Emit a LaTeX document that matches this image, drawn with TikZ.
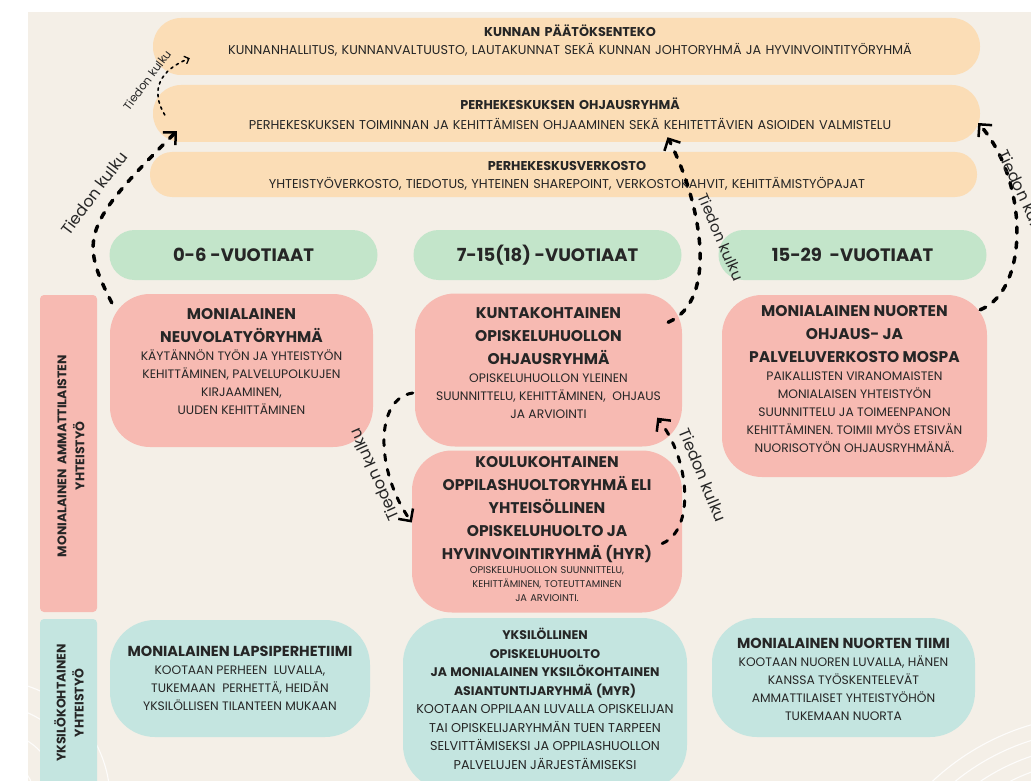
\documentclass[tikz,border=0pt]{standalone}
\usepackage{fontspec}
\setmainfont{Poppins}
\usetikzlibrary{arrows.meta,calc,positioning}
\definecolor{bgcream}{HTML}{F4EFE7}
\definecolor{barorange}{HTML}{FBDDB6}
\definecolor{agegreen}{HTML}{C3E5CA}
\definecolor{grouppink}{HTML}{F7BAB2}
\definecolor{teamteal}{HTML}{C4E5E0}
\definecolor{inkgrey}{HTML}{262626}
\newcommand{\ttlfont}{\fontsize{15.5}{23}\selectfont\bfseries}
\newcommand{\teamttlfont}{\fontsize{14.5}{23}\selectfont\bfseries}
\newcommand{\midttlfont}{\fontsize{12.5}{18.5}\selectfont\bfseries}
\newcommand{\bodyfont}{\fontsize{12.3}{18}\selectfont}
\newcommand{\tinyfont}{\fontsize{9.8}{14}\selectfont}

\tikzset{
  levelbar/.style={fill=barorange, minimum width=827pt, minimum height=57pt, rounded corners=28pt},
  agepill/.style={fill=agegreen, minimum width=268pt, minimum height=50pt, rounded corners=25pt,
    text=inkgrey, font=\fontsize{18}{20}\selectfont\bfseries},
  groupbox/.style={fill=grouppink, rounded corners=40pt},
  teambox/.style={fill=teamteal, rounded corners=45pt},
  sidebar/.style={minimum width=57pt, rounded corners=4pt},
  boxtext/.style={align=center, text width=#1, inner sep=0pt, text=inkgrey},
  boxtext/.default=300pt,
  flow/.style={line width=3.5pt, dash pattern=on 6pt off 9pt, line cap=round,
    -{Straight Barb[length=9pt,width=18pt,line width=2.5pt]}},
  thinflow/.style={line width=1.6pt, dash pattern=on 2.5pt off 4pt, line cap=round,
    -{Straight Barb[length=4pt,width=8pt,line width=1.3pt]}},
  flowlabel/.style={font=\fontsize{16}{16}\selectfont, text=inkgrey, inner sep=0pt},
}

\begin{document}
\begin{tikzpicture}[x=1pt,y=-1pt]
  \useasboundingbox (0,0) rectangle (1031,781);
  \clip (0,0) rectangle (1031,781);
  \fill[white] (0,0) rectangle (1031,781);
  \fill[bgcream] (28,12) rectangle (1031,781);

  % faint decorative arcs
  \foreach \r in {45,70,95,120}
    \draw[white, line width=1.1pt, opacity=0.85] (-10,800) ++(-90:\r) arc (-90:0:\r);
  \foreach \r in {200,215,230,245}
    \draw[white, line width=1.1pt, opacity=0.85] (1100,960) ++(180:\r) arc (180:270:\r);

  % decision levels
  \node[levelbar] (pd) at (566.5,46.5) {};
  \node[levelbar] (oh) at (566.5,113.5) {};
  \node[levelbar, minimum height=45pt, rounded corners=22pt] (vk) at (563.5,174.5) {};
  \node[boxtext=820pt, font=\fontsize{12.8}{18}\selectfont] (pdtext) at (570,41)
    {\textbf{KUNNAN PÄÄTÖKSENTEKO}\\KUNNANHALLITUS, KUNNANVALTUUSTO, LAUTAKUNNAT SEKÄ KUNNAN JOHTORYHMÄ JA HYVINVOINTITYÖRYHMÄ};
  \node[boxtext=820pt, font=\fontsize{12.8}{20}\selectfont] (ohtext) at (570,114)
    {\textbf{PERHEKESKUKSEN OHJAUSRYHMÄ}\\PERHEKESKUKSEN TOIMINNAN JA KEHITTÄMISEN OHJAAMINEN SEKÄ KEHITETTÄVIEN ASIOIDEN VALMISTELU};
  \node[boxtext=820pt, font=\fontsize{12.8}{18}\selectfont] (vktext) at (567,176)
    {\textbf{PERHEKESKUSVERKOSTO}\\YHTEISTYÖVERKOSTO, TIEDOTUS, YHTEINEN SHAREPOINT, VERKOSTOKAHVIT, KEHITTÄMISTYÖPAJAT};

  % age groups
  \node[agepill] (age1) at (243.5,255) {0-6 -VUOTIAAT};
  \node[agepill] (age2) at (547.5,255) {7-15(18) -VUOTIAAT};
  \node[agepill] (age3) at (852.5,255) {15-29~ -VUOTIAAT};

  % side labels
  \node[sidebar, fill=grouppink, minimum height=317pt] (sidepro) at (68.5,453.5) {};
  \node[sidebar, fill=teamteal, minimum height=200pt] (sideind) at (68.5,719) {};
  \node[boxtext=260pt, rotate=90, font=\fontsize{12.5}{18}\selectfont\bfseries] (sideprotext) at (71,456)
    {MONIALAINEN AMMATTILAISTEN\\YHTEISTYÖ};
  \node[boxtext=200pt, rotate=90, font=\fontsize{12.5}{18}\selectfont\bfseries] (sideindtext) at (69,703)
    {YKSILÖKOHTAINEN\\YHTEISTYÖ};

  % multiprofessional groups
  \node[groupbox, minimum width=263pt, minimum height=153pt] (neuvola) at (241.5,370.5) {};
  \node[groupbox, minimum width=267pt, minimum height=153pt] (kunta) at (548.5,370) {};
  \node[groupbox, minimum width=270pt, minimum height=162pt] (koulu) at (547,531.5) {};
  \node[groupbox, minimum width=265pt, minimum height=182pt] (mospa) at (854.5,386) {};

  \node[boxtext] (neuvolatext) at (neuvola.center) [yshift=9pt]
    {{\ttlfont MONIALAINEN\\NEUVOLATYÖRYHMÄ\par}
     {\bodyfont KÄYTÄNNÖN TYÖN JA YHTEISTYÖN\\KEHITTÄMINEN, PALVELUPOLKUJEN\\KIRJAAMINEN,\\UUDEN KEHITTÄMINEN\par}};
  \node[boxtext] (kuntatext) at (kunta.center) [yshift=7pt]
    {{\ttlfont KUNTAKOHTAINEN\\OPISKELUHUOLLON\\OHJAUSRYHMÄ\par}
     {\bodyfont OPISKELUHUOLLON YLEINEN\\SUUNNITTELU, KEHITTÄMINEN,~ OHJAUS\\JA ARVIOINTI\par}};
  \node[boxtext] (koulutext) at (koulu.center) [yshift=2pt]
    {{\ttlfont KOULUKOHTAINEN\\OPPILASHUOLTORYHMÄ ELI\\YHTEISÖLLINEN\\OPISKELUHUOLTO JA\\HYVINVOINTIRYHMÄ (HYR)\par}
     {\tinyfont OPISKELUHUOLLON SUUNNITTELU,\\KEHITTÄMINEN, TOTEUTTAMINEN\\JA ARVIOINTI.\par}};
  \node[boxtext] (mospatext) at (mospa.center) [yshift=7pt]
    {{\ttlfont MONIALAINEN NUORTEN\\OHJAUS- JA\\PALVELUVERKOSTO MOSPA\par}
     {\bodyfont PAIKALLISTEN VIRANOMAISTEN\\MONIALAISEN YHTEISTYÖN\\SUUNNITTELU JA TOIMEENPANON\\KEHITTÄMINEN. TOIMII MYÖS ETSIVÄN\\NUORISOTYÖN OHJAUSRYHMÄNÄ.\par}};

  % individual teams
  \node[teambox, minimum width=260pt, minimum height=117pt] (lapsi) at (240,678.5) {};
  \node[teambox, minimum width=284pt, minimum height=172pt] (myr) at (545,704) {};
  \node[teambox, minimum width=263pt, minimum height=119pt] (nuoret) at (843.5,677.5) {};

  \node[boxtext] (lapsitext) at (lapsi.center)
    {{\teamttlfont MONIALAINEN LAPSIPERHETIIMI\par}
     {\bodyfont KOOTAAN PERHEEN~ LUVALLA,\\TUKEMAAN~ PERHETTÄ, HEIDÄN\\YKSILÖLLISEN TILANTEEN MUKAAN\par}};
  \node[boxtext] (myrtext) at (myr.center) [yshift=5pt]
    {{\midttlfont YKSILÖLLINEN\\OPISKELUHUOLTO\\JA MONIALAINEN YKSILÖKOHTAINEN\\ASIANTUNTIJARYHMÄ (MYR)\par}
     {\fontsize{12.8}{18.5}\selectfont KOOTAAN OPPILAAN LUVALLA OPISKELIJAN\\TAI OPISKELIJARYHMÄN TUEN TARPEEN\\SELVITTÄMISEKSI JA OPPILASHUOLLON\\PALVELUJEN JÄRJESTÄMISEKSI\par}};
  \node[boxtext] (nuorettext) at (nuoret.center) [yshift=-2pt]
    {{\teamttlfont MONIALAINEN NUORTEN TIIMI\par}
     {\bodyfont KOOTAAN NUOREN LUVALLA, HÄNEN\\KANSSA TYÖSKENTELEVÄT\\AMMATTILAISET YHTEISTYÖHÖN\\TUKEMAAN NUORTA\par}};

  % information flow
  \draw[flow] ($(neuvola.north west)+(2,9)$) .. controls +(-32,-63) and +(-95,94) .. ($(oh.south west)+(24,-11)$);
  \draw[thinflow] ($(oh.west)+(12,1.5)$) .. controls +(-15,-25) and +(-30,12) .. ($(pd.south west)+(37,-17)$);
  \draw[flow] ($(kunta.north east)+(-14,29)$) .. controls +(52,-23) and +(32.5,63) .. ($(oh.south)+(101,-5)$);
  \draw[flow] ($(mospa.north east)+(-7,15)$) .. controls +(50,-20) and +(50,57) .. ($(oh.east)+(-2,9.5)$);
  \draw[flow, line width=3pt] ($(kunta.west)+(-2,23)$) .. controls +(-38,5) and +(-37,-52.5) .. ($(koulu.west)+(0,-9)$);
  \draw[flow, line width=3pt] ($(koulu.east)+(-20,12)$) .. controls +(33,-13.5) and +(33,42) .. ($(kunta.south east)+(-25,-29)$);

  \node[flowlabel, rotate=53] (lbl1) at (94,193) {Tiedon kulku};
  \node[flowlabel, rotate=53, font=\fontsize{11.5}{11.5}\selectfont] (lbl2) at (147,80) {Tiedon kulku};
  \node[flowlabel, rotate=-67, font=\fontsize{15}{15}\selectfont] (lbl3) at (721,237) {Tiedon kulku};
  \node[flowlabel, rotate=-65] (lbl4) at (1024,196) {Tiedon kulku};
  \node[flowlabel, rotate=114] (lbl5) at (374,475) {Tiedon kulku};
  \node[flowlabel, rotate=-68] (lbl6) at (703,475) {Tiedon kulku};
\end{tikzpicture}
\end{document}
